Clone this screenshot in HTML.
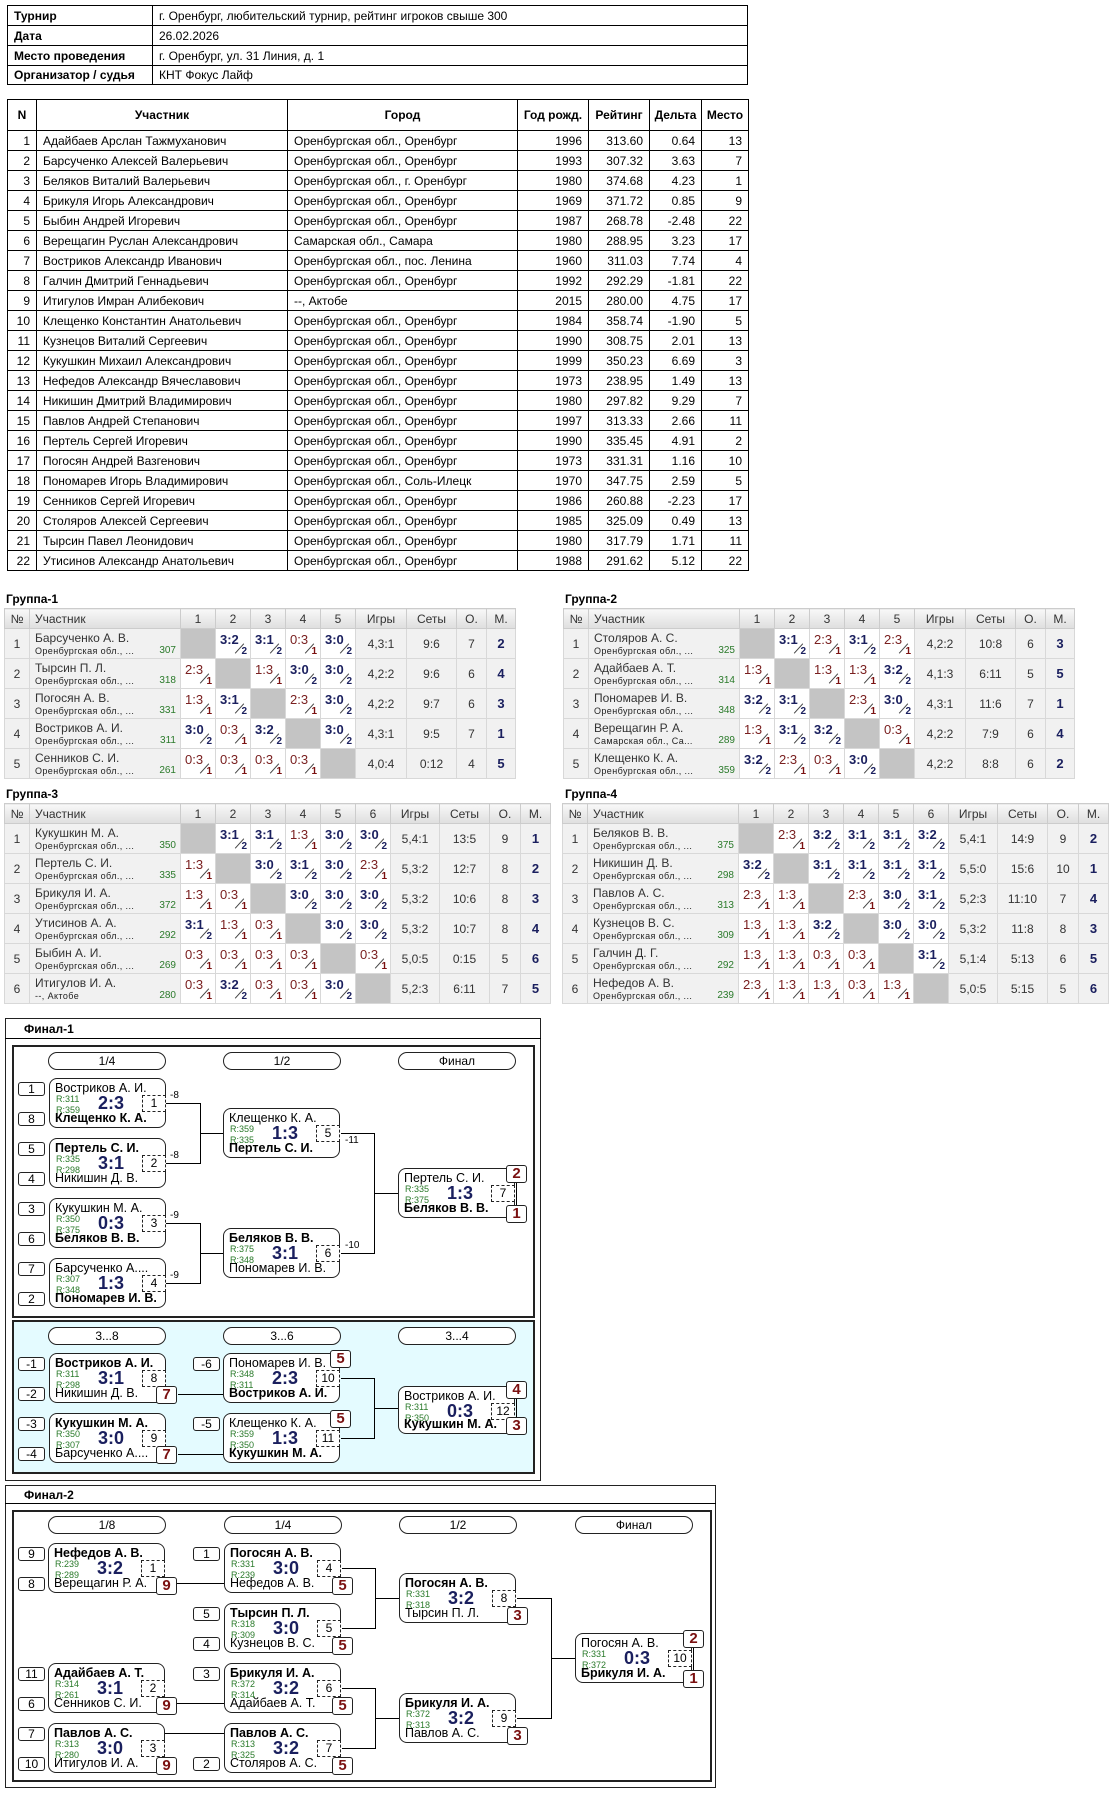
<!DOCTYPE html>
<html><head><meta charset="utf-8">
<style>
*{box-sizing:border-box;margin:0;padding:0}
body{width:1116px;height:1793px;position:relative;background:#fff;font-family:"Liberation Sans",sans-serif;color:#000;overflow:hidden}
.a{position:absolute}
table{border-collapse:collapse;table-layout:fixed}
.t1{position:absolute;font-family:"Liberation Sans Narrow","Liberation Sans",sans-serif;font-size:12px}
.t1 td{border:1px solid #000;padding:0 6px;white-space:nowrap;overflow:hidden}
.t1 th{border:1px solid #000;font-weight:bold;font-size:12px}
.r{text-align:right}
.gl{position:absolute;font-size:12px;font-weight:bold}
.g{position:absolute;font-size:12px;color:#333}
.g th{height:20px;font-weight:normal;background:linear-gradient(#f8f8f8,#dedede);border:1px solid #ccc;text-align:center}
.g th.l{text-align:left;padding-left:5px}
.g td{height:30px;border:1px solid #d8d8d8;background:#f1f1f1;text-align:center;vertical-align:middle}
.g td.nm{text-align:left;padding-left:5px;position:relative;vertical-align:top;padding-top:2px;white-space:nowrap;overflow:hidden}
.g td.nm small{position:absolute;left:5px;top:17px;font-size:9px;letter-spacing:.4px;color:#222}
.g td.nm em{position:absolute;right:4px;top:16px;font-size:10px;font-style:normal;color:#2a7a2a}
.g td.x{background:#c4c4c4}
.g td.s{background:#fff;position:relative}
.g td.s b{position:absolute;left:4px;top:3px;font-size:13px;font-weight:normal;color:#7a2020}
.g td.w b{font-weight:bold;color:#1a1f5e}
.g td.s i{position:absolute;left:17px;top:19px;width:13px;border-top:1px solid #444;transform:rotate(-48deg)}
.g td.s u{position:absolute;right:3px;bottom:1px;font-size:10px;font-weight:bold;text-decoration:none;color:#7a1010}
.g td.w u{color:#1a1f5e}
.g td.pl{font-weight:bold;color:#1a1f5e;font-size:13px}
.box{position:absolute;border:1px solid #222}
.pill{position:absolute;height:18px;border:1px solid #222;border-radius:9px;font-size:12px;text-align:center;line-height:16px;background:#fff}
.m{position:absolute;width:117px;height:50px;border:1px solid #222;border-radius:8px;background:#fff;font-size:12.5px}
.m .n1{position:absolute;left:5px;top:2px;white-space:nowrap}
.m .n2{position:absolute;left:5px;top:32px;white-space:nowrap}
.m .bo{font-weight:bold}
.m .r1,.m .r2{position:absolute;left:6px;font-size:9px;color:#2a7a2a}
.m .r1{top:15px}.m .r2{top:26px}
.m .sc{position:absolute;left:40px;width:42px;top:14px;text-align:center;font-size:18px;font-weight:bold;color:#1a1f5e}
.m .id{position:absolute;right:-1px;top:16px;width:24px;height:17px;border:1px dashed #222;background:#fff;text-align:center;font-size:12px;line-height:15px}
.sd{position:absolute;width:27px;height:14px;border:1px solid #222;border-radius:3px;font-size:12px;text-align:center;line-height:12px;background:#fff}
.pb{position:absolute;width:21px;height:18px;border:1px solid #222;border-radius:3px;font-size:15px;font-weight:bold;color:#7a1010;text-align:center;line-height:16px;background:#fff}
.h{position:absolute;height:1px;background:#000}
.v{position:absolute;width:1px;background:#000}
.lb{position:absolute;font-size:10px}
</style></head><body>

<table class="t1" style="left:7px;top:5px;width:741px">
<col style="width:145px"><col>
<tr style="height:20px"><td><b>Турнир</b></td><td>г. Оренбург, любительский турнир, рейтинг игроков свыше 300</td></tr>
<tr style="height:20px"><td><b>Дата</b></td><td>26.02.2026</td></tr>
<tr style="height:20px"><td><b>Место проведения</b></td><td>г. Оренбург, ул. 31 Линия, д. 1</td></tr>
<tr style="height:19px"><td><b>Организатор / судья</b></td><td>КНТ Фокус Лайф</td></tr>
</table>

<table class="t1" style="left:7px;top:99px;width:741px">
<col style="width:29px"><col style="width:251px"><col style="width:230px"><col style="width:71px"><col style="width:61px"><col style="width:52px"><col style="width:47px">
<tr style="height:31px"><th>N</th><th>Участник</th><th>Город</th><th>Год рожд.</th><th>Рейтинг</th><th>Дельта</th><th>Место</th></tr>
<tr style="height:20px"><td class="r">1</td><td>Адайбаев Арслан Тажмуханович</td><td>Оренбургская обл., Оренбург</td><td class="r">1996</td><td class="r">313.60</td><td class="r">0.64</td><td class="r">13</td></tr>
<tr style="height:20px"><td class="r">2</td><td>Барсученко Алексей Валерьевич</td><td>Оренбургская обл., Оренбург</td><td class="r">1993</td><td class="r">307.32</td><td class="r">3.63</td><td class="r">7</td></tr>
<tr style="height:20px"><td class="r">3</td><td>Беляков Виталий Валерьевич</td><td>Оренбургская обл., г. Оренбург</td><td class="r">1980</td><td class="r">374.68</td><td class="r">4.23</td><td class="r">1</td></tr>
<tr style="height:20px"><td class="r">4</td><td>Брикуля Игорь Александрович</td><td>Оренбургская обл., Оренбург</td><td class="r">1969</td><td class="r">371.72</td><td class="r">0.85</td><td class="r">9</td></tr>
<tr style="height:20px"><td class="r">5</td><td>Быбин Андрей Игоревич</td><td>Оренбургская обл., Оренбург</td><td class="r">1987</td><td class="r">268.78</td><td class="r">-2.48</td><td class="r">22</td></tr>
<tr style="height:20px"><td class="r">6</td><td>Верещагин Руслан Александрович</td><td>Самарская обл., Самара</td><td class="r">1980</td><td class="r">288.95</td><td class="r">3.23</td><td class="r">17</td></tr>
<tr style="height:20px"><td class="r">7</td><td>Востриков Александр Иванович</td><td>Оренбургская обл., пос. Ленина</td><td class="r">1960</td><td class="r">311.03</td><td class="r">7.74</td><td class="r">4</td></tr>
<tr style="height:20px"><td class="r">8</td><td>Галчин Дмитрий Геннадьевич</td><td>Оренбургская обл., Оренбург</td><td class="r">1992</td><td class="r">292.29</td><td class="r">-1.81</td><td class="r">22</td></tr>
<tr style="height:20px"><td class="r">9</td><td>Итигулов Имран Алибекович</td><td>--, Актобе</td><td class="r">2015</td><td class="r">280.00</td><td class="r">4.75</td><td class="r">17</td></tr>
<tr style="height:20px"><td class="r">10</td><td>Клещенко Константин Анатольевич</td><td>Оренбургская обл., Оренбург</td><td class="r">1984</td><td class="r">358.74</td><td class="r">-1.90</td><td class="r">5</td></tr>
<tr style="height:20px"><td class="r">11</td><td>Кузнецов Виталий Сергеевич</td><td>Оренбургская обл., Оренбург</td><td class="r">1990</td><td class="r">308.75</td><td class="r">2.01</td><td class="r">13</td></tr>
<tr style="height:20px"><td class="r">12</td><td>Кукушкин Михаил Александрович</td><td>Оренбургская обл., Оренбург</td><td class="r">1999</td><td class="r">350.23</td><td class="r">6.69</td><td class="r">3</td></tr>
<tr style="height:20px"><td class="r">13</td><td>Нефедов Александр Вячеславович</td><td>Оренбургская обл., Оренбург</td><td class="r">1973</td><td class="r">238.95</td><td class="r">1.49</td><td class="r">13</td></tr>
<tr style="height:20px"><td class="r">14</td><td>Никишин Дмитрий Владимирович</td><td>Оренбургская обл., Оренбург</td><td class="r">1980</td><td class="r">297.82</td><td class="r">9.29</td><td class="r">7</td></tr>
<tr style="height:20px"><td class="r">15</td><td>Павлов Андрей Степанович</td><td>Оренбургская обл., Оренбург</td><td class="r">1997</td><td class="r">313.33</td><td class="r">2.66</td><td class="r">11</td></tr>
<tr style="height:20px"><td class="r">16</td><td>Пертель Сергей Игоревич</td><td>Оренбургская обл., Оренбург</td><td class="r">1990</td><td class="r">335.45</td><td class="r">4.91</td><td class="r">2</td></tr>
<tr style="height:20px"><td class="r">17</td><td>Погосян Андрей Вазгенович</td><td>Оренбургская обл., Оренбург</td><td class="r">1973</td><td class="r">331.31</td><td class="r">1.16</td><td class="r">10</td></tr>
<tr style="height:20px"><td class="r">18</td><td>Пономарев Игорь Владимирович</td><td>Оренбургская обл., Соль-Илецк</td><td class="r">1970</td><td class="r">347.75</td><td class="r">2.59</td><td class="r">5</td></tr>
<tr style="height:20px"><td class="r">19</td><td>Сенников Сергей Игоревич</td><td>Оренбургская обл., Оренбург</td><td class="r">1986</td><td class="r">260.88</td><td class="r">-2.23</td><td class="r">17</td></tr>
<tr style="height:20px"><td class="r">20</td><td>Столяров Алексей Сергеевич</td><td>Оренбургская обл., Оренбург</td><td class="r">1985</td><td class="r">325.09</td><td class="r">0.49</td><td class="r">13</td></tr>
<tr style="height:20px"><td class="r">21</td><td>Тырсин Павел Леонидович</td><td>Оренбургская обл., Оренбург</td><td class="r">1980</td><td class="r">317.79</td><td class="r">1.71</td><td class="r">11</td></tr>
<tr style="height:20px"><td class="r">22</td><td>Утисинов Александр Анатольевич</td><td>Оренбургская обл., Оренбург</td><td class="r">1988</td><td class="r">291.62</td><td class="r">5.12</td><td class="r">22</td></tr>
</table>

<!-- Group 1 -->
<div class="gl" style="left:6px;top:592px">Группа-1</div>
<table class="g" style="left:4px;top:608px;width:511px">
<col style="width:25px"><col style="width:151px"><col style="width:35px"><col style="width:35px"><col style="width:35px"><col style="width:35px"><col style="width:35px"><col style="width:51px"><col style="width:50px"><col style="width:30px"><col style="width:29px">
<tr><th>№</th><th class="l">Участник</th><th>1</th><th>2</th><th>3</th><th>4</th><th>5</th><th>Игры</th><th>Сеты</th><th>О.</th><th>М.</th></tr>
<tr><td>1</td><td class="nm">Барсученко А. В.<small>Оренбургская обл., ...</small><em>307</em></td><td class="x"></td><td class="s w"><b>3:2</b><i></i><u>2</u></td><td class="s w"><b>3:1</b><i></i><u>2</u></td><td class="s"><b>0:3</b><i></i><u>1</u></td><td class="s w"><b>3:0</b><i></i><u>2</u></td><td>4,3:1</td><td>9:6</td><td>7</td><td class="pl">2</td></tr>
<tr><td>2</td><td class="nm">Тырсин П. Л.<small>Оренбургская обл., ...</small><em>318</em></td><td class="s"><b>2:3</b><i></i><u>1</u></td><td class="x"></td><td class="s"><b>1:3</b><i></i><u>1</u></td><td class="s w"><b>3:0</b><i></i><u>2</u></td><td class="s w"><b>3:0</b><i></i><u>2</u></td><td>4,2:2</td><td>9:6</td><td>6</td><td class="pl">4</td></tr>
<tr><td>3</td><td class="nm">Погосян А. В.<small>Оренбургская обл., ...</small><em>331</em></td><td class="s"><b>1:3</b><i></i><u>1</u></td><td class="s w"><b>3:1</b><i></i><u>2</u></td><td class="x"></td><td class="s"><b>2:3</b><i></i><u>1</u></td><td class="s w"><b>3:0</b><i></i><u>2</u></td><td>4,2:2</td><td>9:7</td><td>6</td><td class="pl">3</td></tr>
<tr><td>4</td><td class="nm">Востриков А. И.<small>Оренбургская обл., ...</small><em>311</em></td><td class="s w"><b>3:0</b><i></i><u>2</u></td><td class="s"><b>0:3</b><i></i><u>1</u></td><td class="s w"><b>3:2</b><i></i><u>2</u></td><td class="x"></td><td class="s w"><b>3:0</b><i></i><u>2</u></td><td>4,3:1</td><td>9:5</td><td>7</td><td class="pl">1</td></tr>
<tr><td>5</td><td class="nm">Сенников С. И.<small>Оренбургская обл., ...</small><em>261</em></td><td class="s"><b>0:3</b><i></i><u>1</u></td><td class="s"><b>0:3</b><i></i><u>1</u></td><td class="s"><b>0:3</b><i></i><u>1</u></td><td class="s"><b>0:3</b><i></i><u>1</u></td><td class="x"></td><td>4,0:4</td><td>0:12</td><td>4</td><td class="pl">5</td></tr>
</table>

<!-- Group 2 -->
<div class="gl" style="left:565px;top:592px">Группа-2</div>
<table class="g" style="left:563px;top:608px;width:511px">
<col style="width:25px"><col style="width:151px"><col style="width:35px"><col style="width:35px"><col style="width:35px"><col style="width:35px"><col style="width:35px"><col style="width:51px"><col style="width:50px"><col style="width:30px"><col style="width:29px">
<tr><th>№</th><th class="l">Участник</th><th>1</th><th>2</th><th>3</th><th>4</th><th>5</th><th>Игры</th><th>Сеты</th><th>О.</th><th>М.</th></tr>
<tr><td>1</td><td class="nm">Столяров А. С.<small>Оренбургская обл., ...</small><em>325</em></td><td class="x"></td><td class="s w"><b>3:1</b><i></i><u>2</u></td><td class="s"><b>2:3</b><i></i><u>1</u></td><td class="s w"><b>3:1</b><i></i><u>2</u></td><td class="s"><b>2:3</b><i></i><u>1</u></td><td>4,2:2</td><td>10:8</td><td>6</td><td class="pl">3</td></tr>
<tr><td>2</td><td class="nm">Адайбаев А. Т.<small>Оренбургская обл., ...</small><em>314</em></td><td class="s"><b>1:3</b><i></i><u>1</u></td><td class="x"></td><td class="s"><b>1:3</b><i></i><u>1</u></td><td class="s"><b>1:3</b><i></i><u>1</u></td><td class="s w"><b>3:2</b><i></i><u>2</u></td><td>4,1:3</td><td>6:11</td><td>5</td><td class="pl">5</td></tr>
<tr><td>3</td><td class="nm">Пономарев И. В.<small>Оренбургская обл., ...</small><em>348</em></td><td class="s w"><b>3:2</b><i></i><u>2</u></td><td class="s w"><b>3:1</b><i></i><u>2</u></td><td class="x"></td><td class="s"><b>2:3</b><i></i><u>1</u></td><td class="s w"><b>3:0</b><i></i><u>2</u></td><td>4,3:1</td><td>11:6</td><td>7</td><td class="pl">1</td></tr>
<tr><td>4</td><td class="nm">Верещагин Р. А.<small>Самарская обл., Са...</small><em>289</em></td><td class="s"><b>1:3</b><i></i><u>1</u></td><td class="s w"><b>3:1</b><i></i><u>2</u></td><td class="s w"><b>3:2</b><i></i><u>2</u></td><td class="x"></td><td class="s"><b>0:3</b><i></i><u>1</u></td><td>4,2:2</td><td>7:9</td><td>6</td><td class="pl">4</td></tr>
<tr><td>5</td><td class="nm">Клещенко К. А.<small>Оренбургская обл., ...</small><em>359</em></td><td class="s w"><b>3:2</b><i></i><u>2</u></td><td class="s"><b>2:3</b><i></i><u>1</u></td><td class="s"><b>0:3</b><i></i><u>1</u></td><td class="s w"><b>3:0</b><i></i><u>2</u></td><td class="x"></td><td>4,2:2</td><td>8:8</td><td>6</td><td class="pl">2</td></tr>
</table>

<!-- Group 3 -->
<div class="gl" style="left:6px;top:787px">Группа-3</div>
<table class="g" style="left:4px;top:803px;width:546px">
<col style="width:25px"><col style="width:151px"><col style="width:35px"><col style="width:35px"><col style="width:35px"><col style="width:35px"><col style="width:35px"><col style="width:35px"><col style="width:49px"><col style="width:50px"><col style="width:31px"><col style="width:30px">
<tr><th>№</th><th class="l">Участник</th><th>1</th><th>2</th><th>3</th><th>4</th><th>5</th><th>6</th><th>Игры</th><th>Сеты</th><th>О.</th><th>М.</th></tr>
<tr><td>1</td><td class="nm">Кукушкин М. А.<small>Оренбургская обл., ...</small><em>350</em></td><td class="x"></td><td class="s w"><b>3:1</b><i></i><u>2</u></td><td class="s w"><b>3:1</b><i></i><u>2</u></td><td class="s"><b>1:3</b><i></i><u>1</u></td><td class="s w"><b>3:0</b><i></i><u>2</u></td><td class="s w"><b>3:0</b><i></i><u>2</u></td><td>5,4:1</td><td>13:5</td><td>9</td><td class="pl">1</td></tr>
<tr><td>2</td><td class="nm">Пертель С. И.<small>Оренбургская обл., ...</small><em>335</em></td><td class="s"><b>1:3</b><i></i><u>1</u></td><td class="x"></td><td class="s w"><b>3:0</b><i></i><u>2</u></td><td class="s w"><b>3:1</b><i></i><u>2</u></td><td class="s w"><b>3:0</b><i></i><u>2</u></td><td class="s"><b>2:3</b><i></i><u>1</u></td><td>5,3:2</td><td>12:7</td><td>8</td><td class="pl">2</td></tr>
<tr><td>3</td><td class="nm">Брикуля И. А.<small>Оренбургская обл., ...</small><em>372</em></td><td class="s"><b>1:3</b><i></i><u>1</u></td><td class="s"><b>0:3</b><i></i><u>1</u></td><td class="x"></td><td class="s w"><b>3:0</b><i></i><u>2</u></td><td class="s w"><b>3:0</b><i></i><u>2</u></td><td class="s w"><b>3:0</b><i></i><u>2</u></td><td>5,3:2</td><td>10:6</td><td>8</td><td class="pl">3</td></tr>
<tr><td>4</td><td class="nm">Утисинов А. А.<small>Оренбургская обл., ...</small><em>292</em></td><td class="s w"><b>3:1</b><i></i><u>2</u></td><td class="s"><b>1:3</b><i></i><u>1</u></td><td class="s"><b>0:3</b><i></i><u>1</u></td><td class="x"></td><td class="s w"><b>3:0</b><i></i><u>2</u></td><td class="s w"><b>3:0</b><i></i><u>2</u></td><td>5,3:2</td><td>10:7</td><td>8</td><td class="pl">4</td></tr>
<tr><td>5</td><td class="nm">Быбин А. И.<small>Оренбургская обл., ...</small><em>269</em></td><td class="s"><b>0:3</b><i></i><u>1</u></td><td class="s"><b>0:3</b><i></i><u>1</u></td><td class="s"><b>0:3</b><i></i><u>1</u></td><td class="s"><b>0:3</b><i></i><u>1</u></td><td class="x"></td><td class="s"><b>0:3</b><i></i><u>1</u></td><td>5,0:5</td><td>0:15</td><td>5</td><td class="pl">6</td></tr>
<tr><td>6</td><td class="nm">Итигулов И. А.<small>--, Актобе</small><em>280</em></td><td class="s"><b>0:3</b><i></i><u>1</u></td><td class="s w"><b>3:2</b><i></i><u>2</u></td><td class="s"><b>0:3</b><i></i><u>1</u></td><td class="s"><b>0:3</b><i></i><u>1</u></td><td class="s w"><b>3:0</b><i></i><u>2</u></td><td class="x"></td><td>5,2:3</td><td>6:11</td><td>7</td><td class="pl">5</td></tr>
</table>

<!-- Group 4 -->
<div class="gl" style="left:565px;top:787px">Группа-4</div>
<table class="g" style="left:562px;top:803px;width:546px">
<col style="width:25px"><col style="width:151px"><col style="width:35px"><col style="width:35px"><col style="width:35px"><col style="width:35px"><col style="width:35px"><col style="width:35px"><col style="width:49px"><col style="width:50px"><col style="width:31px"><col style="width:30px">
<tr><th>№</th><th class="l">Участник</th><th>1</th><th>2</th><th>3</th><th>4</th><th>5</th><th>6</th><th>Игры</th><th>Сеты</th><th>О.</th><th>М.</th></tr>
<tr><td>1</td><td class="nm">Беляков В. В.<small>Оренбургская обл., ...</small><em>375</em></td><td class="x"></td><td class="s"><b>2:3</b><i></i><u>1</u></td><td class="s w"><b>3:2</b><i></i><u>2</u></td><td class="s w"><b>3:1</b><i></i><u>2</u></td><td class="s w"><b>3:1</b><i></i><u>2</u></td><td class="s w"><b>3:2</b><i></i><u>2</u></td><td>5,4:1</td><td>14:9</td><td>9</td><td class="pl">2</td></tr>
<tr><td>2</td><td class="nm">Никишин Д. В.<small>Оренбургская обл., ...</small><em>298</em></td><td class="s w"><b>3:2</b><i></i><u>2</u></td><td class="x"></td><td class="s w"><b>3:1</b><i></i><u>2</u></td><td class="s w"><b>3:1</b><i></i><u>2</u></td><td class="s w"><b>3:1</b><i></i><u>2</u></td><td class="s w"><b>3:1</b><i></i><u>2</u></td><td>5,5:0</td><td>15:6</td><td>10</td><td class="pl">1</td></tr>
<tr><td>3</td><td class="nm">Павлов А. С.<small>Оренбургская обл., ...</small><em>313</em></td><td class="s"><b>2:3</b><i></i><u>1</u></td><td class="s"><b>1:3</b><i></i><u>1</u></td><td class="x"></td><td class="s"><b>2:3</b><i></i><u>1</u></td><td class="s w"><b>3:0</b><i></i><u>2</u></td><td class="s w"><b>3:1</b><i></i><u>2</u></td><td>5,2:3</td><td>11:10</td><td>7</td><td class="pl">4</td></tr>
<tr><td>4</td><td class="nm">Кузнецов В. С.<small>Оренбургская обл., ...</small><em>309</em></td><td class="s"><b>1:3</b><i></i><u>1</u></td><td class="s"><b>1:3</b><i></i><u>1</u></td><td class="s w"><b>3:2</b><i></i><u>2</u></td><td class="x"></td><td class="s w"><b>3:0</b><i></i><u>2</u></td><td class="s w"><b>3:0</b><i></i><u>2</u></td><td>5,3:2</td><td>11:8</td><td>8</td><td class="pl">3</td></tr>
<tr><td>5</td><td class="nm">Галчин Д. Г.<small>Оренбургская обл., ...</small><em>292</em></td><td class="s"><b>1:3</b><i></i><u>1</u></td><td class="s"><b>1:3</b><i></i><u>1</u></td><td class="s"><b>0:3</b><i></i><u>1</u></td><td class="s"><b>0:3</b><i></i><u>1</u></td><td class="x"></td><td class="s w"><b>3:1</b><i></i><u>2</u></td><td>5,1:4</td><td>5:13</td><td>6</td><td class="pl">5</td></tr>
<tr><td>6</td><td class="nm">Нефедов А. В.<small>Оренбургская обл., ...</small><em>239</em></td><td class="s"><b>2:3</b><i></i><u>1</u></td><td class="s"><b>1:3</b><i></i><u>1</u></td><td class="s"><b>1:3</b><i></i><u>1</u></td><td class="s"><b>0:3</b><i></i><u>1</u></td><td class="s"><b>1:3</b><i></i><u>1</u></td><td class="x"></td><td>5,0:5</td><td>5:15</td><td>5</td><td class="pl">6</td></tr>
</table>

<!-- ===== Финал-1 ===== -->
<div class="box" style="left:5px;top:1018px;width:536px;height:463px"></div>
<div class="h" style="left:5px;top:1038px;width:536px"></div>
<div class="gl" style="left:24px;top:1022px">Финал-1</div>
<div class="box" style="left:12px;top:1045px;width:523px;height:273px;border-width:2px"></div>
<div class="box" style="left:12px;top:1320px;width:523px;height:154px;border-width:2px;background:#e4fbff"></div>

<div class="pill" style="left:48px;top:1052px;width:118px">1/4</div>
<div class="pill" style="left:223px;top:1052px;width:118px">1/2</div>
<div class="pill" style="left:398px;top:1052px;width:118px">Финал</div>

<div class="sd" style="left:18px;top:1082px">1</div><div class="sd" style="left:18px;top:1112px">8</div>
<div class="m" style="left:49px;top:1078px"><div class="n1">Востриков А. И.</div><div class="r1">R:311</div><div class="r2">R:359</div><div class="sc">2:3</div><div class="n2 bo">Клещенко К. А.</div><div class="id">1</div></div>
<div class="sd" style="left:18px;top:1142px">5</div><div class="sd" style="left:18px;top:1172px">4</div>
<div class="m" style="left:49px;top:1138px"><div class="n1 bo">Пертель С. И.</div><div class="r1">R:335</div><div class="r2">R:298</div><div class="sc">3:1</div><div class="n2">Никишин Д. В.</div><div class="id">2</div></div>
<div class="sd" style="left:18px;top:1202px">3</div><div class="sd" style="left:18px;top:1232px">6</div>
<div class="m" style="left:49px;top:1198px"><div class="n1">Кукушкин М. А.</div><div class="r1">R:350</div><div class="r2">R:375</div><div class="sc">0:3</div><div class="n2 bo">Беляков В. В.</div><div class="id">3</div></div>
<div class="sd" style="left:18px;top:1262px">7</div><div class="sd" style="left:18px;top:1292px">2</div>
<div class="m" style="left:49px;top:1258px"><div class="n1">Барсученко А....</div><div class="r1">R:307</div><div class="r2">R:348</div><div class="sc">1:3</div><div class="n2 bo">Пономарев И. В.</div><div class="id">4</div></div>

<div class="m" style="left:223px;top:1108px"><div class="n1">Клещенко К. А.</div><div class="r1">R:359</div><div class="r2">R:335</div><div class="sc">1:3</div><div class="n2 bo">Пертель С. И.</div><div class="id">5</div></div>
<div class="m" style="left:223px;top:1228px"><div class="n1 bo">Беляков В. В.</div><div class="r1">R:375</div><div class="r2">R:348</div><div class="sc">3:1</div><div class="n2">Пономарев И. В.</div><div class="id">6</div></div>
<div class="m" style="left:398px;top:1168px"><div class="n1">Пертель С. И.</div><div class="r1">R:335</div><div class="r2">R:375</div><div class="sc">1:3</div><div class="n2 bo">Беляков В. В.</div><div class="id">7</div></div>
<div class="v" style="left:516px;top:1183px;height:25px"></div>
<div class="pb" style="left:506px;top:1165px">2</div><div class="pb" style="left:506px;top:1205px">1</div>

<div class="h" style="left:166px;top:1103px;width:34px"></div><div class="h" style="left:166px;top:1163px;width:34px"></div>
<div class="v" style="left:200px;top:1103px;height:61px"></div><div class="h" style="left:200px;top:1133px;width:23px"></div>
<div class="h" style="left:166px;top:1223px;width:34px"></div><div class="h" style="left:166px;top:1283px;width:34px"></div>
<div class="v" style="left:200px;top:1223px;height:61px"></div><div class="h" style="left:200px;top:1253px;width:23px"></div>
<div class="lb" style="left:170px;top:1090px">-8</div><div class="lb" style="left:170px;top:1150px">-8</div>
<div class="lb" style="left:170px;top:1210px">-9</div><div class="lb" style="left:170px;top:1270px">-9</div>
<div class="h" style="left:341px;top:1133px;width:33px"></div><div class="h" style="left:341px;top:1253px;width:33px"></div>
<div class="v" style="left:374px;top:1133px;height:121px"></div><div class="h" style="left:374px;top:1193px;width:24px"></div>
<div class="lb" style="left:345px;top:1135px">-11</div><div class="lb" style="left:345px;top:1240px">-10</div>

<!-- 3..8 -->
<div class="pill" style="left:48px;top:1327px;width:118px">3...8</div>
<div class="pill" style="left:223px;top:1327px;width:118px">3...6</div>
<div class="pill" style="left:398px;top:1327px;width:118px">3...4</div>

<div class="sd" style="left:18px;top:1357px">-1</div><div class="sd" style="left:18px;top:1387px">-2</div>
<div class="m" style="left:49px;top:1353px"><div class="n1 bo">Востриков А. И.</div><div class="r1">R:311</div><div class="r2">R:298</div><div class="sc">3:1</div><div class="n2">Никишин Д. В.</div><div class="id">8</div></div>
<div class="pb" style="left:156px;top:1386px">7</div>
<div class="sd" style="left:18px;top:1417px">-3</div><div class="sd" style="left:18px;top:1447px">-4</div>
<div class="m" style="left:49px;top:1413px"><div class="n1 bo">Кукушкин М. А.</div><div class="r1">R:350</div><div class="r2">R:307</div><div class="sc">3:0</div><div class="n2">Барсученко А....</div><div class="id">9</div></div>
<div class="pb" style="left:156px;top:1446px">7</div>
<div class="h" style="left:178px;top:1394px;width:45px"></div><div class="h" style="left:178px;top:1454px;width:45px"></div>

<div class="sd" style="left:193px;top:1357px">-6</div><div class="sd" style="left:193px;top:1417px">-5</div>
<div class="m" style="left:223px;top:1353px"><div class="n1">Пономарев И. В.</div><div class="r1">R:348</div><div class="r2">R:311</div><div class="sc">2:3</div><div class="n2 bo">Востриков А. И.</div><div class="id">10</div></div>
<div class="pb" style="left:330px;top:1350px">5</div>
<div class="m" style="left:223px;top:1413px"><div class="n1">Клещенко К. А.</div><div class="r1">R:359</div><div class="r2">R:350</div><div class="sc">1:3</div><div class="n2 bo">Кукушкин М. А.</div><div class="id">11</div></div>
<div class="pb" style="left:330px;top:1410px">5</div>
<div class="h" style="left:341px;top:1378px;width:33px"></div><div class="h" style="left:341px;top:1438px;width:33px"></div>
<div class="v" style="left:374px;top:1378px;height:61px"></div><div class="h" style="left:374px;top:1408px;width:24px"></div>
<div class="m" style="left:398px;top:1386px;height:48px"><div class="n1">Востриков А. И.</div><div class="r1">R:311</div><div class="r2">R:350</div><div class="sc">0:3</div><div class="n2 bo" style="top:30px">Кукушкин М. А.</div><div class="id">12</div></div>
<div class="v" style="left:516px;top:1398px;height:22px"></div>
<div class="pb" style="left:506px;top:1381px">4</div><div class="pb" style="left:506px;top:1417px">3</div>

<!-- ===== Финал-2 ===== -->
<div class="box" style="left:5px;top:1485px;width:711px;height:303px"></div>
<div class="h" style="left:5px;top:1503px;width:711px"></div>
<div class="gl" style="left:24px;top:1488px">Финал-2</div>
<div class="box" style="left:12px;top:1510px;width:700px;height:272px;border-width:2px"></div>

<div class="pill" style="left:48px;top:1516px;width:118px">1/8</div>
<div class="pill" style="left:224px;top:1516px;width:118px">1/4</div>
<div class="pill" style="left:399px;top:1516px;width:118px">1/2</div>
<div class="pill" style="left:575px;top:1516px;width:118px">Финал</div>

<div class="sd" style="left:18px;top:1547px">9</div><div class="sd" style="left:18px;top:1577px">8</div>
<div class="m" style="left:48px;top:1543px"><div class="n1 bo">Нефедов А. В.</div><div class="r1">R:239</div><div class="r2">R:289</div><div class="sc">3:2</div><div class="n2">Верещагин Р. А.</div><div class="id">1</div></div>
<div class="pb" style="left:156px;top:1577px">9</div>
<div class="sd" style="left:18px;top:1667px">11</div><div class="sd" style="left:18px;top:1697px">6</div>
<div class="m" style="left:48px;top:1663px"><div class="n1 bo">Адайбаев А. Т.</div><div class="r1">R:314</div><div class="r2">R:261</div><div class="sc">3:1</div><div class="n2">Сенников С. И.</div><div class="id">2</div></div>
<div class="pb" style="left:156px;top:1697px">9</div>
<div class="sd" style="left:18px;top:1727px">7</div><div class="sd" style="left:18px;top:1757px">10</div>
<div class="m" style="left:48px;top:1723px"><div class="n1 bo">Павлов А. С.</div><div class="r1">R:313</div><div class="r2">R:280</div><div class="sc">3:0</div><div class="n2">Итигулов И. А.</div><div class="id">3</div></div>
<div class="pb" style="left:156px;top:1757px">9</div>

<div class="sd" style="left:193px;top:1547px">1</div>
<div class="m" style="left:224px;top:1543px"><div class="n1 bo">Погосян А. В.</div><div class="r1">R:331</div><div class="r2">R:239</div><div class="sc">3:0</div><div class="n2">Нефедов А. В.</div><div class="id">4</div></div>
<div class="pb" style="left:332px;top:1577px">5</div>
<div class="sd" style="left:193px;top:1607px">5</div><div class="sd" style="left:193px;top:1637px">4</div>
<div class="m" style="left:224px;top:1603px"><div class="n1 bo">Тырсин П. Л.</div><div class="r1">R:318</div><div class="r2">R:309</div><div class="sc">3:0</div><div class="n2">Кузнецов В. С.</div><div class="id">5</div></div>
<div class="pb" style="left:332px;top:1637px">5</div>
<div class="sd" style="left:193px;top:1667px">3</div>
<div class="m" style="left:224px;top:1663px"><div class="n1 bo">Брикуля И. А.</div><div class="r1">R:372</div><div class="r2">R:314</div><div class="sc">3:2</div><div class="n2">Адайбаев А. Т.</div><div class="id">6</div></div>
<div class="pb" style="left:332px;top:1697px">5</div>
<div class="sd" style="left:193px;top:1757px">2</div>
<div class="m" style="left:224px;top:1723px"><div class="n1 bo">Павлов А. С.</div><div class="r1">R:313</div><div class="r2">R:325</div><div class="sc">3:2</div><div class="n2">Столяров А. С.</div><div class="id">7</div></div>
<div class="pb" style="left:332px;top:1757px">5</div>

<div class="h" style="left:177px;top:1583px;width:47px"></div>
<div class="h" style="left:177px;top:1703px;width:47px"></div>
<div class="h" style="left:165px;top:1733px;width:59px"></div>

<div class="h" style="left:342px;top:1568px;width:33px"></div><div class="h" style="left:342px;top:1628px;width:33px"></div>
<div class="v" style="left:375px;top:1568px;height:61px"></div><div class="h" style="left:375px;top:1598px;width:24px"></div>
<div class="h" style="left:342px;top:1688px;width:33px"></div><div class="h" style="left:342px;top:1748px;width:33px"></div>
<div class="v" style="left:375px;top:1688px;height:61px"></div><div class="h" style="left:375px;top:1718px;width:24px"></div>

<div class="m" style="left:399px;top:1573px"><div class="n1 bo">Погосян А. В.</div><div class="r1">R:331</div><div class="r2">R:318</div><div class="sc">3:2</div><div class="n2">Тырсин П. Л.</div><div class="id">8</div></div>
<div class="pb" style="left:507px;top:1607px">3</div>
<div class="m" style="left:399px;top:1693px"><div class="n1 bo">Брикуля И. А.</div><div class="r1">R:372</div><div class="r2">R:313</div><div class="sc">3:2</div><div class="n2">Павлов А. С.</div><div class="id">9</div></div>
<div class="pb" style="left:507px;top:1727px">3</div>

<div class="h" style="left:517px;top:1598px;width:34px"></div><div class="h" style="left:517px;top:1718px;width:34px"></div>
<div class="v" style="left:551px;top:1598px;height:121px"></div><div class="h" style="left:551px;top:1658px;width:24px"></div>

<div class="m" style="left:575px;top:1633px"><div class="n1">Погосян А. В.</div><div class="r1">R:331</div><div class="r2">R:372</div><div class="sc">0:3</div><div class="n2 bo">Брикуля И. А.</div><div class="id">10</div></div>
<div class="v" style="left:693px;top:1648px;height:25px"></div>
<div class="pb" style="left:683px;top:1630px">2</div><div class="pb" style="left:683px;top:1670px">1</div>

</body></html>
